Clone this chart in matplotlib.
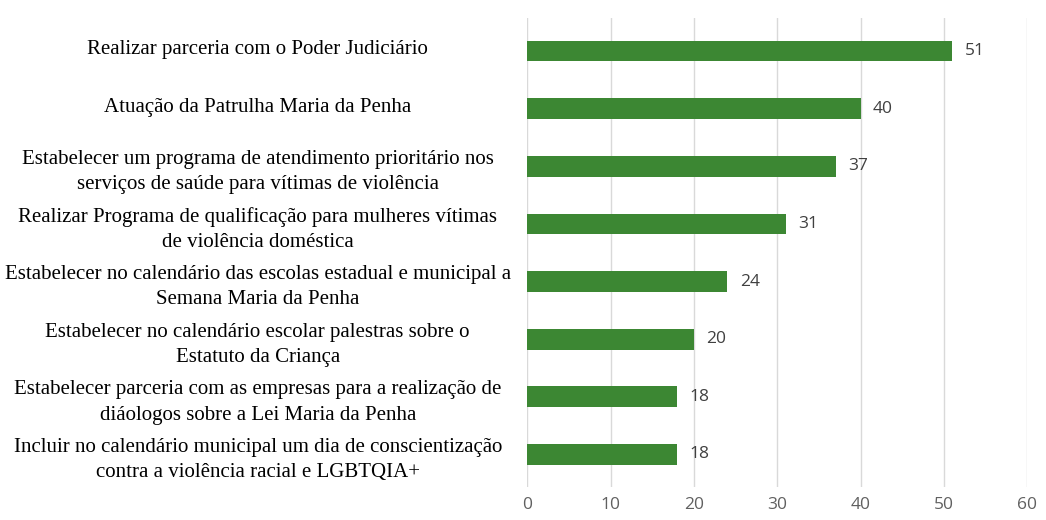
import matplotlib.pyplot as plt
from matplotlib.transforms import ScaledTranslation

categories = [
    "Realizar parceria com o Poder Judiciário",
    "Atuação da Patrulha Maria da Penha",
    "Estabelecer um programa de atendimento prioritário nos\nserviços de saúde para vítimas de violência",
    "Realizar Programa de qualificação para mulheres vítimas\nde violência doméstica",
    "Estabelecer no calendário das escolas estadual e municipal a\nSemana Maria da Penha",
    "Estabelecer no calendário escolar palestras sobre o\nEstatuto da Criança",
    "Estabelecer parceria com as empresas para a realização de\ndiáologos sobre a Lei Maria da Penha",
    "Incluir no calendário municipal um dia de conscientização\ncontra a violência racial e LGBTQIA+",
]
values = [51, 40, 37, 31, 24, 20, 18, 18]
x_ticks = [0, 10, 20, 30, 40, 50, 60]

fig = plt.figure(figsize=(10.46, 5.2), dpi=100)
ax = fig.add_axes([0.504, 0.063, 0.478, 0.902])

pos = list(range(len(values)))
ax.barh(pos, values, height=0.36, color='#3c8733', zorder=3)
for y, v in zip(pos, values):
    ax.text(v + 1.5, y, str(v), va='center', ha='left',
            fontsize=12.5, color='#404040', family='Open Sans')

ax.set_xlim(0, 60)
ax.set_ylim(len(values) - 0.43, -0.57)
ax.set_xticks(x_ticks)
ax.set_xticklabels([str(t) for t in x_ticks], fontsize=12.5,
                   color='#606060', family='Open Sans')
ax.set_yticks(pos)
ax.set_yticklabels(categories, fontsize=15, family='Liberation Serif',
                   ha='center', linespacing=1.45)
ax.tick_params(axis='y', length=0, pad=194)
ax.tick_params(axis='x', length=0, pad=7)

# single-line labels sit a little above the bar centre in the original
shift = ScaledTranslation(0, 4 / 100, fig.dpi_scale_trans)
for lab in ax.get_yticklabels():
    if '\n' not in lab.get_text():
        lab.set_transform(lab.get_transform() + shift)

ax.grid(axis='x', color='#d9d9d9', linewidth=1, zorder=0)
for s in ax.spines.values():
    s.set_visible(False)

fig.savefig('out.png', dpi=100)
